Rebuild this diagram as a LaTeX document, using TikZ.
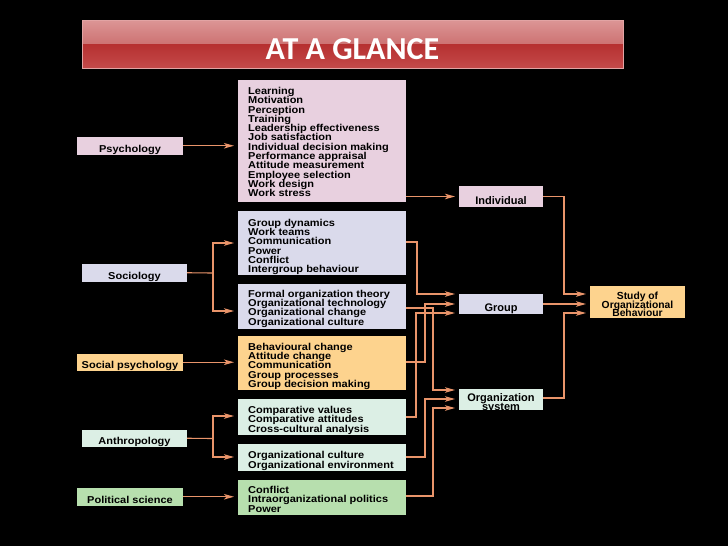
\documentclass[tikz,border=0pt]{standalone}
\usepackage{fontspec}
\newfontfamily\labfont{Liberation Sans}[FakeStretch=1.1]
\newfontfamily\rfont{Liberation Sans}
\newfontfamily\titlefont{Carlito}
\usetikzlibrary{arrows.meta}
\definecolor{pinkb}{HTML}{E8D0DF}
\definecolor{lavb}{HTML}{DADAEB}
\definecolor{orb}{HTML}{FDD38E}
\definecolor{mintb}{HTML}{DCEFE5}
\definecolor{greenb}{HTML}{B7DFAE}
\definecolor{arrowc}{HTML}{E9946A}
\definecolor{tbtop}{HTML}{DC9696}
\definecolor{tbmid}{HTML}{CD7272}
\definecolor{tbmid2}{HTML}{B63030}
\definecolor{tbbot}{HTML}{C44A4A}
\definecolor{tbedge}{HTML}{E2A4A4}
\newcommand{\tightlines}{\lineskiplimit=-30pt\relax\lineskip=0pt\relax}
\begin{document}
\begin{tikzpicture}[x=1pt,y=-1pt,
  box/.style={draw=none, inner sep=0pt, outer sep=0pt, anchor=north west},
  lbox/.style={box, font=\labfont\bfseries\fontsize{10}{9.3}\selectfont,
    text height=12.6pt, text depth=0pt, minimum height=17.5pt},
  mbox/.style={box, minimum width=168pt},
  mtxt/.style={inner sep=0pt, anchor=base west, align=left,
    font=\labfont\bfseries\fontsize{10}{9.3}\selectfont\tightlines},
  rbox/.style={box, minimum width=84pt, text depth=0pt,
    font=\rfont\bfseries\fontsize{11}{9.3}\selectfont},
  line/.style={draw=arrowc, line width=1.1pt},
  conn/.style={line, -{Stealth[length=10pt,width=5.5pt,inset=2.5pt]}, shorten >=4pt}
]
\fill[black] (0,0) rectangle (728,546);
\useasboundingbox (0,0) rectangle (728,546);

% title bar
\shade[top color=tbtop, bottom color=tbmid] (82,20) rectangle (623,44);
\shade[top color=tbmid2, bottom color=tbbot] (82,44) rectangle (623,68);
\draw[tbedge, line width=0.8pt] (82,20) rectangle (623,68);
\node[inner sep=0pt, anchor=base, text=white,
  font=\titlefont\bfseries\fontsize{32}{32}\selectfont] (title) at (352.5,59.5) {AT A GLANCE};

% left boxes
\node[lbox, fill=pinkb, minimum width=106pt] (psy) at (77,137) {Psychology};
\node[lbox, fill=lavb, minimum width=105pt] (soc) at (82,264) {Sociology};
\node[lbox, fill=orb, minimum width=106pt] (sp) at (77,353.5) {Social psychology};
\node[lbox, fill=mintb, minimum width=105pt] (ant) at (82,429.5) {Anthropology};
\node[lbox, fill=greenb, minimum width=106pt] (pol) at (77,488) {Political science};

% middle boxes
\node[mbox, fill=pinkb, minimum height=122pt] (b1) at (238,80) {};
\node[mbox, fill=lavb, minimum height=64pt] (b2) at (238,211) {};
\node[mbox, fill=lavb, minimum height=45pt] (b3) at (238,284) {};
\node[mbox, fill=orb, minimum height=54pt] (b4) at (238,336) {};
\node[mbox, fill=mintb, minimum height=36pt] (b5) at (238,399) {};
\node[mbox, fill=mintb, minimum height=27pt] (b6) at (238,444) {};
\node[mbox, fill=greenb, minimum height=35pt] (b7) at (238,480) {};

% texts: anchor at the baseline of the last line
\node[mtxt] (t1) at (248,196.7) {Learning\\Motivation\\Perception\\Training\\Leadership effectiveness\\Job satisfaction\\Individual decision making\\Performance appraisal\\Attitude measurement\\Employee selection\\Work design\\Work stress};
\node[mtxt] (t2) at (248,272.7) {Group dynamics\\Work teams\\Communication\\Power\\Conflict\\Intergroup behaviour};
\node[mtxt] (t3) at (248,325.2) {Formal organization theory\\Organizational technology\\Organizational change\\Organizational culture};
\node[mtxt] (t4) at (248,387.5) {Behavioural change\\Attitude change\\Communication\\Group processes\\Group decision making};
\node[mtxt] (t5) at (248,432.1) {Comparative values\\Comparative attitudes\\Cross-cultural analysis};
\node[mtxt] (t6) at (248,468.2) {Organizational culture\\Organizational environment};
\node[mtxt] (t7) at (248,512.2) {Conflict\\Intraorganizational politics\\Power};

% right boxes
\node[rbox, fill=pinkb, minimum height=21pt, text height=15pt] (ind) at (459,186) {Individual};
\node[rbox, fill=lavb, minimum height=20pt, text height=14pt] (grp) at (459,294) {Group};
\node[rbox, fill=mintb, minimum height=21pt] (org) at (459,389) {};
\node[inner sep=0pt, anchor=base, align=center,
  font=\rfont\bfseries\fontsize{11}{9.3}\selectfont\tightlines] (orgt) at (501,410.3) {Organization\\system};
\node[box, fill=orb, minimum width=95pt, minimum height=32pt] (study) at (590,286) {};
\node[inner sep=0pt, anchor=base, align=center,
  font=\rfont\bfseries\fontsize{10.3}{8.7}\selectfont\tightlines] (studyt) at (637.5,316.7) {Study of\\Organizational\\Behaviour};
% hide overflow below the clipped boxes
\fill[black] (459,410) rectangle (543,420);
\fill[black] (590,318) rectangle (685,330);

% connectors: disciplines to topics
\draw[conn] (psy.east) -- (psy.east -| b1.west);
\coordinate (sj) at (213,273);
\draw[line] (soc.east) -- (sj);
\draw[conn] (sj) |- (b2.west |- 0,243);
\draw[conn] (sj) |- (b3.west |- 0,311);
\draw[conn] (sp.east) -- (sp.east -| b4.west);
\coordinate (aj) at (213,438.5);
\draw[line] (ant.east) -- (aj);
\draw[conn] (aj) |- (b5.west |- 0,416);
\draw[conn] (aj) |- (b6.west |- 0,457);
\draw[conn] (pol.east) -- (pol.east -| b7.west);

% topics to levels
\draw[conn] (b1.east |- ind.west) -- (ind.west);
\draw[conn] (b2.east |- 0,242) -- (417,242) -- (417,294) -- (grp.west |- 0,294);
\draw[conn] (b4.east |- 0,362) -- (425,362) -- (425,304) -- (grp.west |- 0,304);
\draw[conn] (b5.east |- 0,417) -- (416,417) -- (416,313) -- (grp.west |- 0,313);
\draw[conn] (b3.east |- 0,308) -- (433,308) -- (433,390) -- (org.west |- 0,390);
\draw[conn] (b6.east |- 0,457) -- (425,457) -- (425,399) -- (org.west |- 0,399);
\draw[conn] (b7.east |- 0,496) -- (433,496) -- (433,408) -- (org.west |- 0,408);

% levels to study
\draw[conn] (ind.east) -- (564,196.5) -- (564,294) -- (study.west |- 0,294);
\draw[conn] (grp.east) -- (study.west |- grp.east);
\draw[conn] (org.east |- 0,398) -- (564,398) -- (564,313) -- (study.west |- 0,313);
\end{tikzpicture}
\end{document}
